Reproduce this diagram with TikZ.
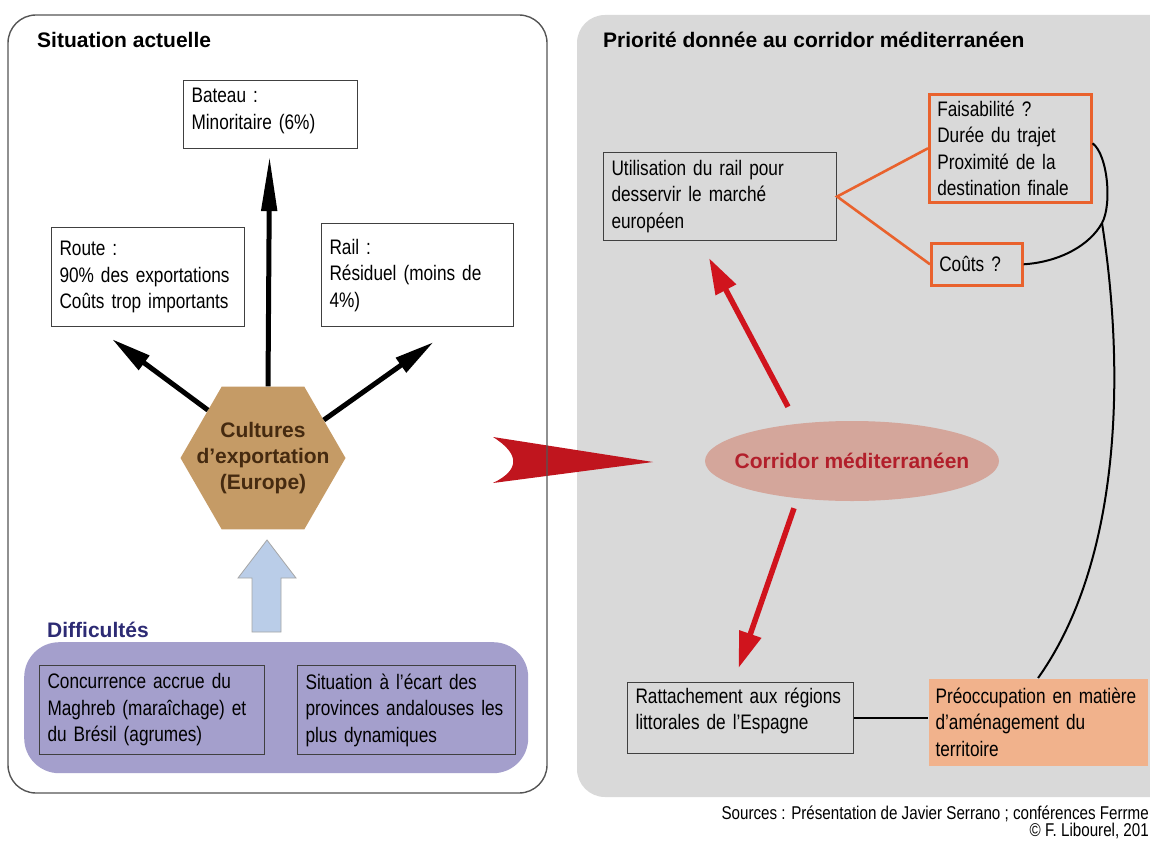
\documentclass[tikz,border=0pt]{standalone}
\usepackage{fontspec}
\setmainfont{Liberation Sans}
\newfontfamily\narrowfont{Liberation Sans}[FakeStretch=0.82]
\usetikzlibrary{arrows.meta,shapes.geometric}

\definecolor{cpanel}{HTML}{D9D9D9}
\definecolor{cframe}{HTML}{555555}
\definecolor{chex}{HTML}{C59B66}
\definecolor{chexfont}{HTML}{452A10}
\definecolor{cpurple}{HTML}{A49FCC}
\definecolor{cdiff}{HTML}{2D2B74}
\definecolor{cblue}{HTML}{BACDE8}
\definecolor{cred}{HTML}{D0141D}
\definecolor{cchev}{HTML}{C0151E}
\definecolor{cellipse}{HTML}{D4A69B}
\definecolor{cellfont}{HTML}{B21F2B}
\definecolor{corange}{HTML}{E9622D}
\definecolor{cpeach}{HTML}{F1B28C}

\tikzset{
  box/.style={draw=black!75, line width=1.1pt, anchor=north west, align=left,
    inner xsep=8pt, inner ysep=0pt, font=\narrowfont\fontsize{21}{26.5}\selectfont},
  obox/.style={box, draw=corange, line width=2.6pt},
  title/.style={anchor=west, inner sep=0pt, font=\bfseries\fontsize{21}{25}\selectfont},
  blk/.style={line width=5pt, -{Triangle[length=40pt,width=17pt]}},
  redarr/.style={cred, line width=5.5pt, -{Triangle[length=36pt,width=22pt]}},
  link/.style={line width=2pt},
  srcnote/.style={anchor=east, inner sep=0pt, font=\narrowfont\fontsize{18.5}{22}\selectfont},
}

\begin{document}
\begin{tikzpicture}[x=1pt,y=-1pt]
\path[use as bounding box, fill=white] (0,0) rectangle (1150,840);

% panels
\fill[cpanel, rounded corners=28pt] (577,15) rectangle (1185,797);
\fill[cchev] (493,437) -- (653,462) -- (493,483) .. controls (520,470) and (520,454) .. (493,437) -- cycle;
\draw[cframe, line width=1.4pt, rounded corners=28pt] (8,15) rectangle (547,793);

\node[title] (sit) at (37,40) {Situation actuelle};
\node[title] (prio) at (603,40) {Priorité donnée au corridor méditerranéen};

% situation actuelle
\node[box, fill=white, minimum height=68pt, text width=158pt, text depth=38pt] (bateau) at (183,80) {Bateau :\\Minoritaire (6\%)};
\node[box, fill=white, minimum height=99pt, text width=177pt] (route) at (51,227) {Route :\\90\% des exportations\\Coûts trop importants};
\node[box, fill=white, minimum height=103pt, text width=176pt, text depth=57pt] (rail) at (321,223) {Rail :\\Résiduel (moins de\\4\%)};

\node[regular polygon, regular polygon sides=6, minimum size=165pt, inner sep=0pt, fill=chex] (hex) at (263,458) {};
\node[align=center, text=chexfont, font=\bfseries\fontsize{21}{26}\selectfont] (cult) at (hex) {Cultures\\d’exportation\\(Europe)};

\draw[blk, -{Triangle[length=55pt,width=15pt]}] (hex.86) -- ([xshift=-1pt,yshift=-7pt]bateau.south);
\draw[blk] (hex.139) -- ([xshift=-36pt,yshift=-12pt]route.south);
\draw[blk] (hex.32) -- ([xshift=16pt,yshift=-15pt]rail.south);

\draw[fill=cblue, draw=gray!70, line width=0.8pt] (252,632) -- (252,578) -- (238,578) -- (267,540) -- (296,578) -- (281,578) -- (281,632) -- cycle;

\node[title, text=cdiff] (diff) at (47,630) {Difficultés};
\node[fill=cpurple, rounded corners=35pt, minimum width=504pt, minimum height=131pt, anchor=north west] (difbg) at (24,642) {};
\node[box, minimum height=89pt, text width=209pt] (concur) at (39,665) {Concurrence accrue du\\Maghreb (maraîchage) et\\du Brésil (agrumes)};
\node[box, minimum height=89pt, text width=202pt] (ecart) at (297,665) {Situation à l’écart des\\provinces andalouses les\\plus dynamiques};

% corridor
\node[ellipse, minimum width=294pt, minimum height=80pt, inner sep=0pt, fill=cellipse] (ell) at (852,461) {};
\node[text=cellfont, font=\bfseries\fontsize{21}{25}\selectfont] (corr) at (ell) {Corridor méditerranéen};

\node[box, minimum height=88pt, text width=217pt] (util) at (603,152) {Utilisation du rail pour\\desservir le marché\\européen};
\node[obox, minimum height=108pt, text width=146pt] (faisa) at (928,93) {Faisabilité ?\\Durée du trajet\\Proximité de la\\destination finale};
\node[obox, minimum height=42pt, text width=75pt] (couts) at (930,242) {Coûts ?};
\node[box, minimum height=71pt, text width=210pt, text depth=45pt] (ratt) at (627,682) {Rattachement aux régions\\littorales de l’Espagne};
\node[box, draw=none, fill=cpeach, inner xsep=7pt, minimum height=87pt, text width=205pt] (preoc) at (928,678) {Préoccupation en matière\\d’aménagement du\\territoire};

\draw[redarr] ([xshift=-64pt,yshift=14pt]ell.north) -- ([xshift=-11pt,yshift=-17pt]util.south);
\draw[redarr] ([xshift=-58pt,yshift=-7pt]ell.south) -- ([xshift=-2pt,yshift=14pt]ratt.north);

\draw[corange, line width=2.6pt] (faisa.west) -- (util.east) -- (couts.west);

\coordinate (jn) at (1102,223);
\draw[link] ([yshift=5pt]faisa.east) .. controls (1108,155) and (1112,205) .. (jn);
\draw[link] (couts.east) .. controls (1060,262) and (1090,245) .. (jn);
\draw[link] (jn) .. controls (1125,370) and (1122,560) .. (preoc.north);
\draw[link] (ratt.east) -- (ratt.east -| preoc.west);

% sources
\node[srcnote] (src) at (1149,814) {Sources : Présentation de Javier Serrano ; conférences Ferrme};
\node[srcnote] (copy) at (1149,831) {© F. Libourel, 201};
\end{tikzpicture}
\end{document}
